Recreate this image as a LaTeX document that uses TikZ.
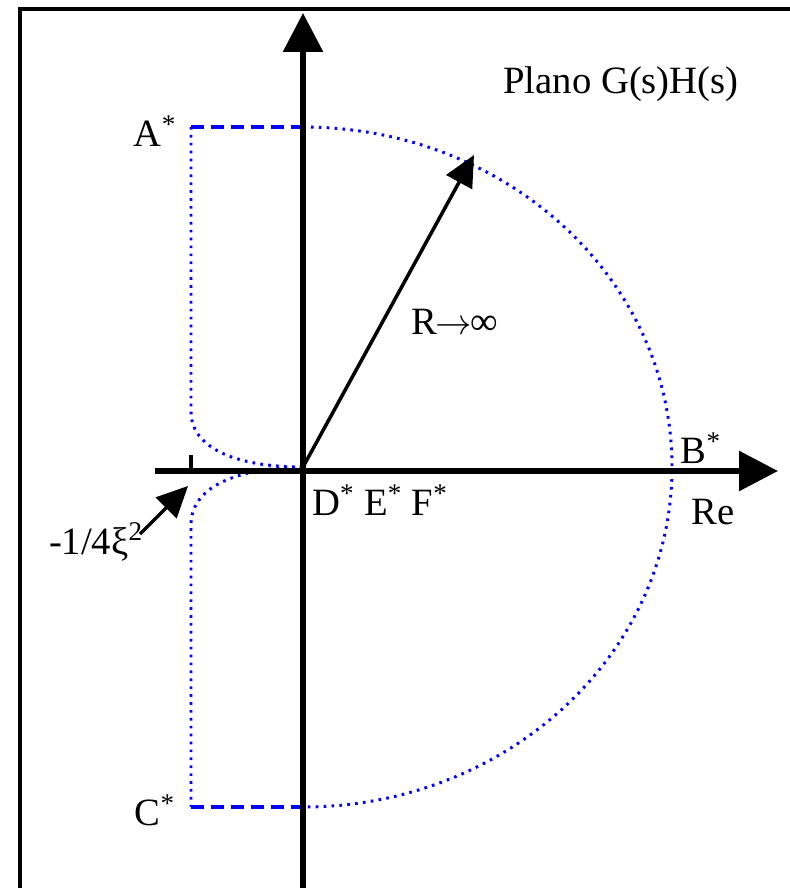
\documentclass[tikz,border=0pt]{standalone}
\usepackage{fontspec}
\setmainfont{Liberation Serif}
\usetikzlibrary{arrows.meta}

\begin{document}
\begin{tikzpicture}[x=0.02cm,y=-0.02cm,font=\fontsize{22}{26}\selectfont]
\definecolor{locusBlue}{HTML}{0000FF}
\tikzset{
  axisline/.style={line width=3.4pt,-{Triangle[width=0.78cm,length=0.78cm]}},
  pointer/.style={line width=2pt,-{Triangle[width=0.58cm,length=0.62cm]}},
  locusdot/.style={locusBlue,line width=1.7pt,dash pattern=on 1.5pt off 3pt},
  locusdash/.style={locusBlue,line width=2pt,dash pattern=on 7.4pt off 4pt}
}
\useasboundingbox (0,0) rectangle (790,888);
\draw[line width=1.8pt] (20,888) -- (20,9) -- (790,9);
\coordinate (O) at (303,467);
\coordinate (A) at (191,127);
\coordinate (Aax) at (303,127);
\coordinate (C) at (191,807);
\coordinate (Cax) at (303,807);
\coordinate (B) at (672,467);
\coordinate (tick) at (191,471);
% locus
\draw[locusdash] (A) -- (Aax);
\draw[locusdash] (C) -- (Cax);
\draw[locusdot] (A) -- (191,412) .. controls (191,445) and (230,467) .. (O);
\draw[locusdot] (O) .. controls (240,468) and (191,485) .. (191,525) -- (C);
\draw[locusdot] (Aax) arc[start angle=90,end angle=-90,x radius=369,y radius=-340];
% axes
\coordinate (ybot) at (303,888);
\coordinate (ytop) at (303,13);
\coordinate (xl) at (155,471);
\coordinate (xr) at (778,471);
\draw[axisline] (ybot) -- (ytop);
\draw[axisline] (xl) -- (xr);
\draw[line width=2pt] (tick) -- (191,455);
\coordinate (Rtip) at (474,155);
\draw[pointer] (O) -- (Rtip);
\coordinate (xitail) at (140,534);
\draw[pointer] (xitail) -- (188,486);
\node (plano) at (621,84) {Plano G(s)H(s)};
\node (Alab) at (155,131) {A\textsuperscript{*}};
\node (Clab) at (155,810) {C\textsuperscript{*}};
\node (Blab) at (701,448) {B\textsuperscript{*}};
\node (Re) at (713,512) {Re};
\node (DEF) at (380,500) {D\textsuperscript{*} E\textsuperscript{*} F\textsuperscript{*}};
\node (Rlab) at (455,322) {R\kern-1pt$\rightarrow$\kern-1pt∞};
\node (xilab) at (96,542) {-1/4ξ\textsuperscript{2}};
\end{tikzpicture}
\end{document}
